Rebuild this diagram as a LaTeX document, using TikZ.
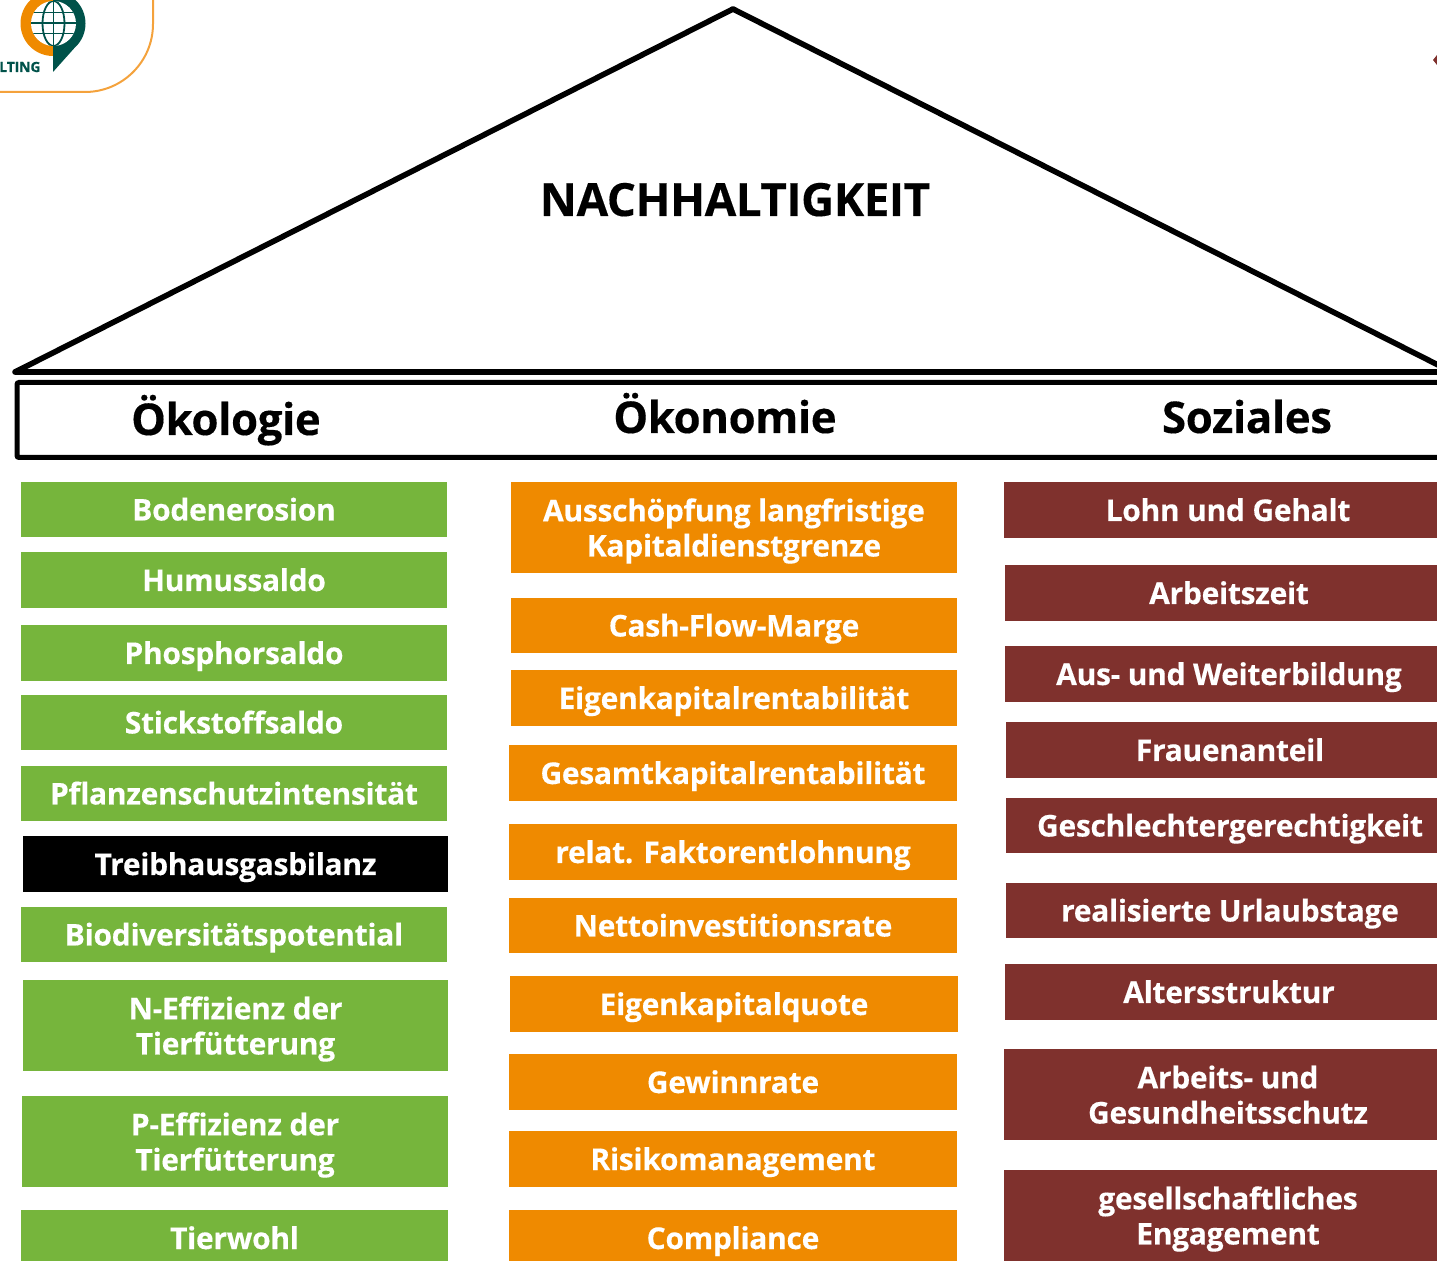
\documentclass[tikz,border=0pt]{standalone}
\usepackage{fontspec}
\setmainfont[BoldFeatures={LetterSpace=-1,FakeBold=0.3}]{Open Sans}
\definecolor{kpigreen}{HTML}{76B53C}
\definecolor{kpiorange}{HTML}{EF8A00}
\definecolor{kpired}{HTML}{7F312D}
\definecolor{logogreen}{HTML}{00524A}
\definecolor{logoorange}{HTML}{EF8A00}
\definecolor{frameorange}{HTML}{F4A23C}
\tikzset{
    kpi/.style={inner sep=0pt, align=center, text=white, font=\fontsize{15}{17.6}\selectfont\bfseries,
        execute at begin node={\rule{0pt}{15pt}}, execute at end node={\rule[-4pt]{0pt}{4pt}}},
    greenbox/.style={kpi, fill=kpigreen, minimum width=213pt, minimum height=27.75pt},
    orangebox/.style={kpi, fill=kpiorange, minimum width=224pt, minimum height=27.75pt},
    redbox/.style={kpi, fill=kpired, minimum width=224pt, minimum height=27.75pt},
    twolines/.style={minimum height=45.5pt, execute at begin node={\rule{0pt}{33pt}}},
    head/.style={anchor=base, font=\fontsize{21.9}{24}\selectfont\bfseries}
}
\begin{document}
\begin{tikzpicture}[x=0.5pt, y=-0.5pt]
    \useasboundingbox (0,0) rectangle (1437,1261);
    \clip (0,0) rectangle (1437,1261);
    % logo
    \draw[frameorange, line width=1pt] (0,92) -- (85,92) arc[start angle=90, end angle=0, radius=68] -- (153,0);
    \fill[logoorange] (53,-9) arc[start angle=-90, end angle=-270, radius=32.5] -- cycle;
    \fill[logogreen] (53,-9) arc[start angle=-90, end angle=48, radius=32.5] -- (53,72) -- cycle;
    \fill[white] (53.5,23.5) circle[radius=22.5];
    \begin{scope}[logogreen, line width=0.9pt]
        \clip (53.5,23.5) circle[radius=22.5];
        \draw (53.5,0) -- (53.5,46);
        \draw (30,23) -- (77,23);
        \draw (30,12.5) -- (77,12.5);
        \draw (30,33.5) -- (77,33.5);
        \draw (53.5,23.5) ellipse[x radius=11, y radius=22.5];
    \end{scope}
    \node[logogreen, anchor=east, inner sep=0pt, font=\fontsize{7}{8}\selectfont\bfseries] (logotext) at (41,67) {LTING};
    \fill[kpired] (1437,55) -- (1433,60) -- (1437,65) -- cycle;
    % roof
    \coordinate (roofleft) at (15,372);
    \coordinate (roofapex) at (733,9);
    \coordinate (roofright) at (1452,372);
    \draw[line width=2.8pt, line join=round] (roofleft) -- (roofapex) -- (roofright) -- cycle;
    \node[head, font=\fontsize{22.9}{24}\selectfont\bfseries] (title) at (735,216) {NACHHALTIGKEIT};
    % header
    \node[draw, line width=2.5pt, rounded corners=1pt, minimum width=730pt, minimum height=37.5pt] (pillars) at (747,420) {};
    \node[head] (oeko) at (226,435) {Ökologie};
    \node[head] (oekon) at (725,433) {Ökonomie};
    \node[head] (sozial) at (1247,433) {Soziales};
    % Oekologie
    \node[greenbox] (boden) at (234,509.5) {Bodenerosion};
    \node[greenbox] (humus) at (234,580) {Humussaldo};
    \node[greenbox] (phos) at (234,653) {Phosphorsaldo};
    \node[greenbox] (stick) at (234,722.5) {Stickstoffsaldo};
    \node[greenbox] (pflanz) at (234,793.5) {Pflanzenschutzintensität};
    \node[greenbox, fill=black, minimum width=212.5pt] (treib) at (235.5,864) {Treibhausgasbilanz};
    \node[greenbox] (biodiv) at (234,934.5) {Biodiversitätspotential};
    \node[greenbox, twolines, minimum width=212.5pt] (neff) at (235.5,1025.5) {N-Effizienz der\\Tierfütterung};
    \node[greenbox, twolines] (peff) at (235,1141.5) {P-Effizienz der\\Tierfütterung};
    \node[greenbox, minimum width=213.5pt] (wohl) at (234.5,1238) {Tierwohl};
    % Oekonomie
    \node[orangebox, twolines, minimum width=223pt] (kapdienst) at (734,527.5) {Ausschöpfung langfristige\\Kapitaldienstgrenze};
    \node[orangebox, minimum width=223pt] (cash) at (734,625.5) {Cash-Flow-Marge};
    \node[orangebox, minimum width=223pt] (ekrent) at (734,698) {Eigenkapitalrentabilität};
    \node[orangebox] (gkrent) at (733,773) {Gesamtkapitalrentabilität};
    \node[orangebox] (faktor) at (733,852) {relat. Faktorentlohnung};
    \node[orangebox] (netto) at (733,925.5) {Nettoinvestitionsrate};
    \node[orangebox] (ekquote) at (734,1004) {Eigenkapitalquote};
    \node[orangebox] (gewinn) at (733,1082) {Gewinnrate};
    \node[orangebox] (risiko) at (733,1159) {Risikomanagement};
    \node[orangebox] (compl) at (733,1238) {Compliance};
    % Soziales
    \node[redbox] (lohn) at (1228,510) {Lohn und Gehalt};
    \node[redbox] (azeit) at (1229,593) {Arbeitszeit};
    \node[redbox] (bildung) at (1229,674) {Aus- und Weiterbildung};
    \node[redbox] (frauen) at (1230,750) {Frauenanteil};
    \node[redbox] (geschl) at (1230,825.5) {Geschlechtergerechtigkeit};
    \node[redbox] (urlaub) at (1230,910.5) {realisierte Urlaubstage};
    \node[redbox] (alter) at (1229,992) {Altersstruktur};
    \node[redbox, twolines] (schutz) at (1228,1094.5) {Arbeits- und\\Gesundheitsschutz};
    \node[redbox, twolines] (engage) at (1228,1215.5) {gesellschaftliches\\Engagement};
\end{tikzpicture}
\end{document}
